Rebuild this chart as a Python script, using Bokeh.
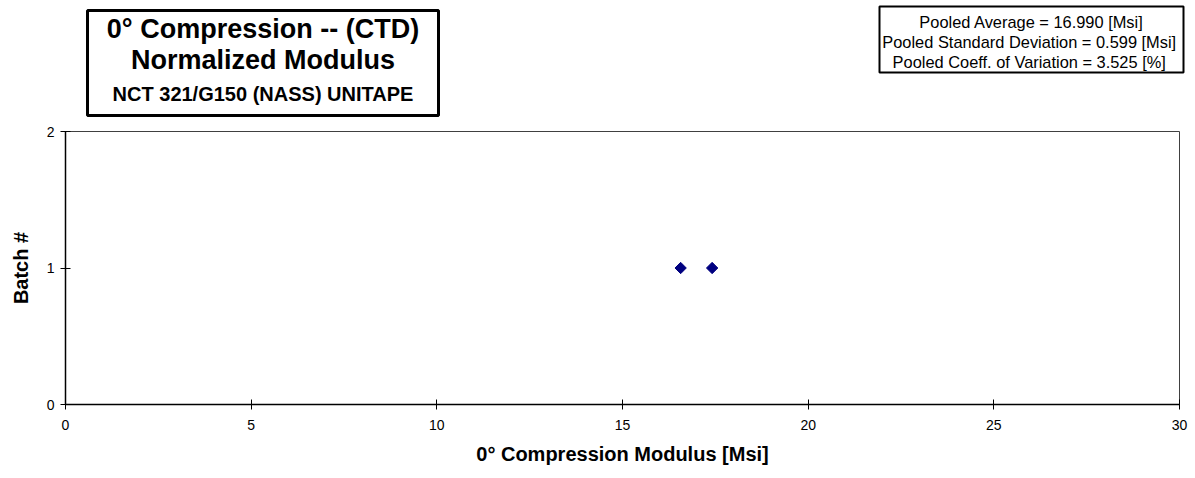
import math
from bokeh.plotting import figure
from bokeh.models import FixedTicker, Range1d, Label, BoxAnnotation, ColumnDataSource
from bokeh.embed import file_html
from bokeh.resources import INLINE

# ---- data ----
batch = [1, 1]
modulus = [16.566, 17.414]
x_ticks = [0, 5, 10, 15, 20, 25, 30]
y_ticks = [0, 1, 2]
title_lines = ["0° Compression -- (CTD)", "Normalized Modulus", "NCT 321/G150 (NASS) UNITAPE"]
stats_lines = ["Pooled Average = 16.990 [Msi]",
               "Pooled Standard Deviation = 0.599  [Msi]",
               "Pooled Coeff. of  Variation = 3.525 [%]"]
x_title = "0° Compression Modulus [Msi]"
y_title = "Batch #"

FONT = "Liberation Sans"
W, H = 1195, 478
HEAD = 125

# ---- header (title box + stats box) ----
h = figure(width=W, height=HEAD, output_backend="svg", toolbar_location=None,
           x_range=Range1d(0, W), y_range=Range1d(HEAD, 0),
           x_axis_location=None, y_axis_location=None,
           min_border_left=0, min_border_right=0, min_border_top=0, min_border_bottom=0)
h.outline_line_color = None
h.grid.visible = False
h.background_fill_color = "white"
h.border_fill_color = "white"

h.add_layout(BoxAnnotation(left=87, right=438, top=10, bottom=115,
                           fill_color="white", fill_alpha=1.0,
                           line_color="black", line_alpha=1.0, line_width=3))
title_sizes = ["27px", "27px", "20px"]
title_mid = [28, 59, 93]
for t, fs, m in zip(title_lines, title_sizes, title_mid):
    h.add_layout(Label(x=262.5, y=m, text=t,
                       text_font=FONT, text_font_size=fs, text_font_style="bold",
                       text_align="center", text_baseline="middle",
                       text_color="black"))

h.add_layout(BoxAnnotation(left=879, right=1183, top=6, bottom=72,
                           fill_color="white", fill_alpha=1.0,
                           line_color="black", line_alpha=1.0, line_width=2))
stats_mid = [21, 41, 61]
for t, m in zip(stats_lines, stats_mid):
    h.add_layout(Label(x=1031, y=m, text=t,
                       text_font=FONT, text_font_size="16.4px",
                       text_align="center", text_baseline="middle",
                       text_color="black"))

# ---- main plot ----
p = figure(width=W, height=H - HEAD, output_backend="svg", toolbar_location=None,
           x_range=Range1d(0, 30), y_range=Range1d(0, 2),
           min_border_left=65, min_border_right=16, min_border_top=6, min_border_bottom=74)
p.background_fill_color = "white"
p.border_fill_color = "white"
p.outline_line_color = "#404040"
p.outline_line_width = 1
p.grid.visible = False

src = ColumnDataSource(dict(x=modulus, y=batch))
p.scatter("x", "y", source=src, marker="square", size=8, angle=math.pi / 4,
          color="#000080")

for ax in (p.xaxis[0], p.yaxis[0]):
    ax.axis_line_color = "black"
    ax.axis_line_width = 1.5
    ax.major_tick_line_color = "black"
    ax.major_tick_in = 5
    ax.major_tick_out = 5
    ax.minor_tick_line_color = None
    ax.major_label_text_font = FONT
    ax.major_label_text_font_size = "14px"
    ax.major_label_text_color = "black"
    ax.axis_label_text_font = FONT
    ax.axis_label_text_font_size = "20px"
    ax.axis_label_text_font_style = "bold"
    ax.axis_label_text_color = "black"

p.xaxis.ticker = FixedTicker(ticks=x_ticks)
p.yaxis.ticker = FixedTicker(ticks=y_ticks)
p.xaxis.axis_label = x_title
p.yaxis.axis_label = y_title
p.xaxis.major_label_standoff = 10
p.xaxis.axis_label_standoff = 10
p.yaxis.major_label_standoff = 6
p.yaxis.axis_label_standoff = 12

open("out.html", "w").write(file_html([h, p], INLINE))
